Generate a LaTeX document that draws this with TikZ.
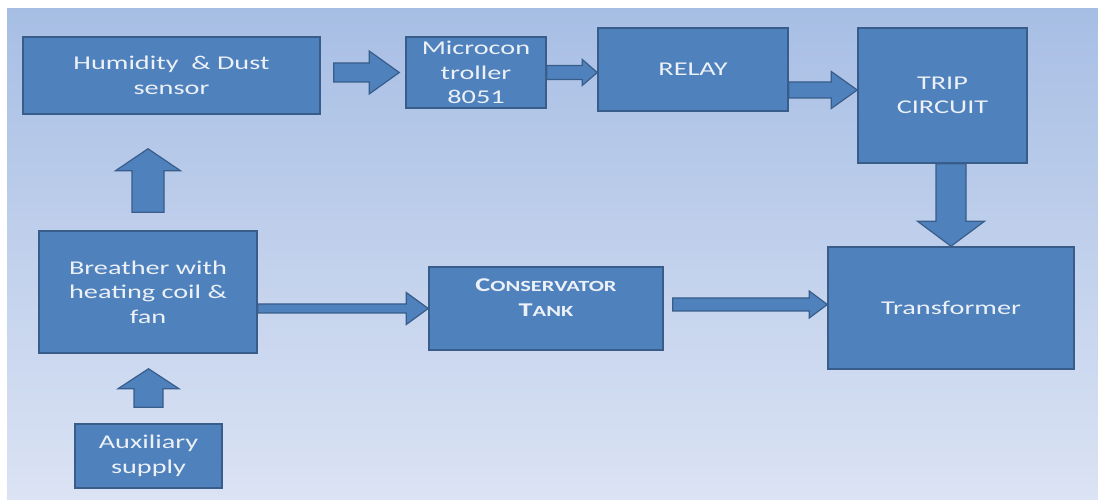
\documentclass[tikz,border=0pt]{standalone}
\usepackage{fontspec}
\setmainfont{Carlito}
\usepackage{graphicx}
\usetikzlibrary{calc}
\definecolor{boxblue}{RGB}{79,129,189}
\definecolor{boxedge}{RGB}{56,93,138}
\definecolor{txt}{RGB}{236,240,247}
\definecolor{bgtop}{RGB}{167,190,228}
\definecolor{bgbot}{RGB}{219,227,244}
\newcommand\hs[1]{\scalebox{1.45}[1]{#1}}
\newcommand\rarrow[5]{\draw[barrow] let \p1=(#1), \p2=(#2) in (\x1,\y1-#3) -- (\x2-#5,\y1-#3) -- (\x2-#5,\y1-#4) -- (\x2,\y1) -- (\x2-#5,\y1+#4) -- (\x2-#5,\y1+#3) -- (\x1,\y1+#3) -- cycle;}
\newcommand\uarrow[5]{\draw[barrow] let \p1=(#1), \p2=(#2) in (\x1-#3,\y1) -- (\x1-#3,\y2-#5) -- (\x1-#4,\y2-#5) -- (\x1,\y2) -- (\x1+#4,\y2-#5) -- (\x1+#3,\y2-#5) -- (\x1+#3,\y1) -- cycle;}
\newcommand\darrow[5]{\draw[barrow] let \p1=(#1), \p2=(#2) in (\x1-#3,\y1) -- (\x1-#3,\y2+#5) -- (\x1-#4,\y2+#5) -- (\x1,\y2) -- (\x1+#4,\y2+#5) -- (\x1+#3,\y2+#5) -- (\x1+#3,\y1) -- cycle;}
\begin{document}
\begin{tikzpicture}[x=1pt,y=1pt,
  box/.style={draw=boxedge, line width=1.5pt, fill=boxblue, text=txt, align=center, inner sep=0pt, font=\fontsize{19.5}{24.5}\selectfont},
  barrow/.style={draw=boxedge, line width=1.2pt, fill=boxblue, line join=miter}]
\useasboundingbox (0,0) rectangle (1098,500);
\fill[white] (0,0) rectangle (1098,500);
\shade[top color=bgtop, bottom color=bgbot] (7,0) rectangle (1098,491);

\node[box, minimum width=297pt, minimum height=77pt] (hum) at (171.5,424.5) {\hs{Humidity\ \ \& Dust}\\\hs{sensor}};
\node[box, minimum width=140pt, minimum height=71pt] (mc) at (476,427.5) {\hs{Microcon}\\\hs{troller}\\\hs{8051}};
\node[box, minimum width=190pt, minimum height=83pt] (relay) at (693,430.5) {\hs{RELAY}};
\node[box, minimum width=169pt, minimum height=135pt] (trip) at (942.5,404.5) {\hs{TRIP}\\\hs{CIRCUIT}};
\node[box, minimum width=246pt, minimum height=122pt] (trans) at (951,192) {\hs{Transformer}};
\node[box, minimum width=234pt, minimum height=83pt] (cons) at (546,191.5) {};
\node[text=txt, align=center, inner sep=0pt, font=\bfseries\fontsize{19.5}{25}\selectfont] (constext) at ($(cons.center)+(0,11)$)
  {\hs{C{\fontsize{15.5}{25}\selectfont ONSERVATOR}}\\\hs{T{\fontsize{15.5}{25}\selectfont ANK}}};
\node[box, minimum width=218pt, minimum height=122pt] (breather) at (148,208) {\hs{Breather with}\\\hs{heating coil \&}\\\hs{fan}};
\node[box, minimum width=147pt, minimum height=64pt] (aux) at (148.5,44) {\hs{Auxiliary}\\\hs{supply}};

\coordinate (a1s) at ($(hum.east |- mc.west)+(13,0)$);
\coordinate (a1e) at ($(mc.west)+(-6,0)$);
\rarrow{a1s}{a1e}{9.5}{21.5}{30}
\rarrow{mc.east}{relay.west |- mc.east}{7}{13}{15}
\coordinate (a3s) at ($(relay.east)+(0,-20.5)$);
\rarrow{a3s}{trip.west |- a3s}{8}{18.5}{26}
\darrow{trip.south -| trans.north}{trans.north}{15}{33.5}{25}
\coordinate (a5s) at ($(breather.north)+(0,18)$);
\coordinate (a5e) at ($(hum.south -| breather.north)+(0,-34)$);
\uarrow{a5s}{a5e}{16}{32.5}{22}
\coordinate (a6s) at ($(aux.north)+(0,16)$);
\coordinate (a6e) at ($(breather.south)+(0,-15)$);
\uarrow{a6s}{a6e}{14.5}{30.5}{20}
\rarrow{breather.east |- cons.west}{cons.west}{4.5}{16}{22}
\coordinate (a8s) at ($(cons.east)+(9,4)$);
\rarrow{a8s}{trans.west |- a8s}{6.5}{13.5}{18}
\end{tikzpicture}
\end{document}
